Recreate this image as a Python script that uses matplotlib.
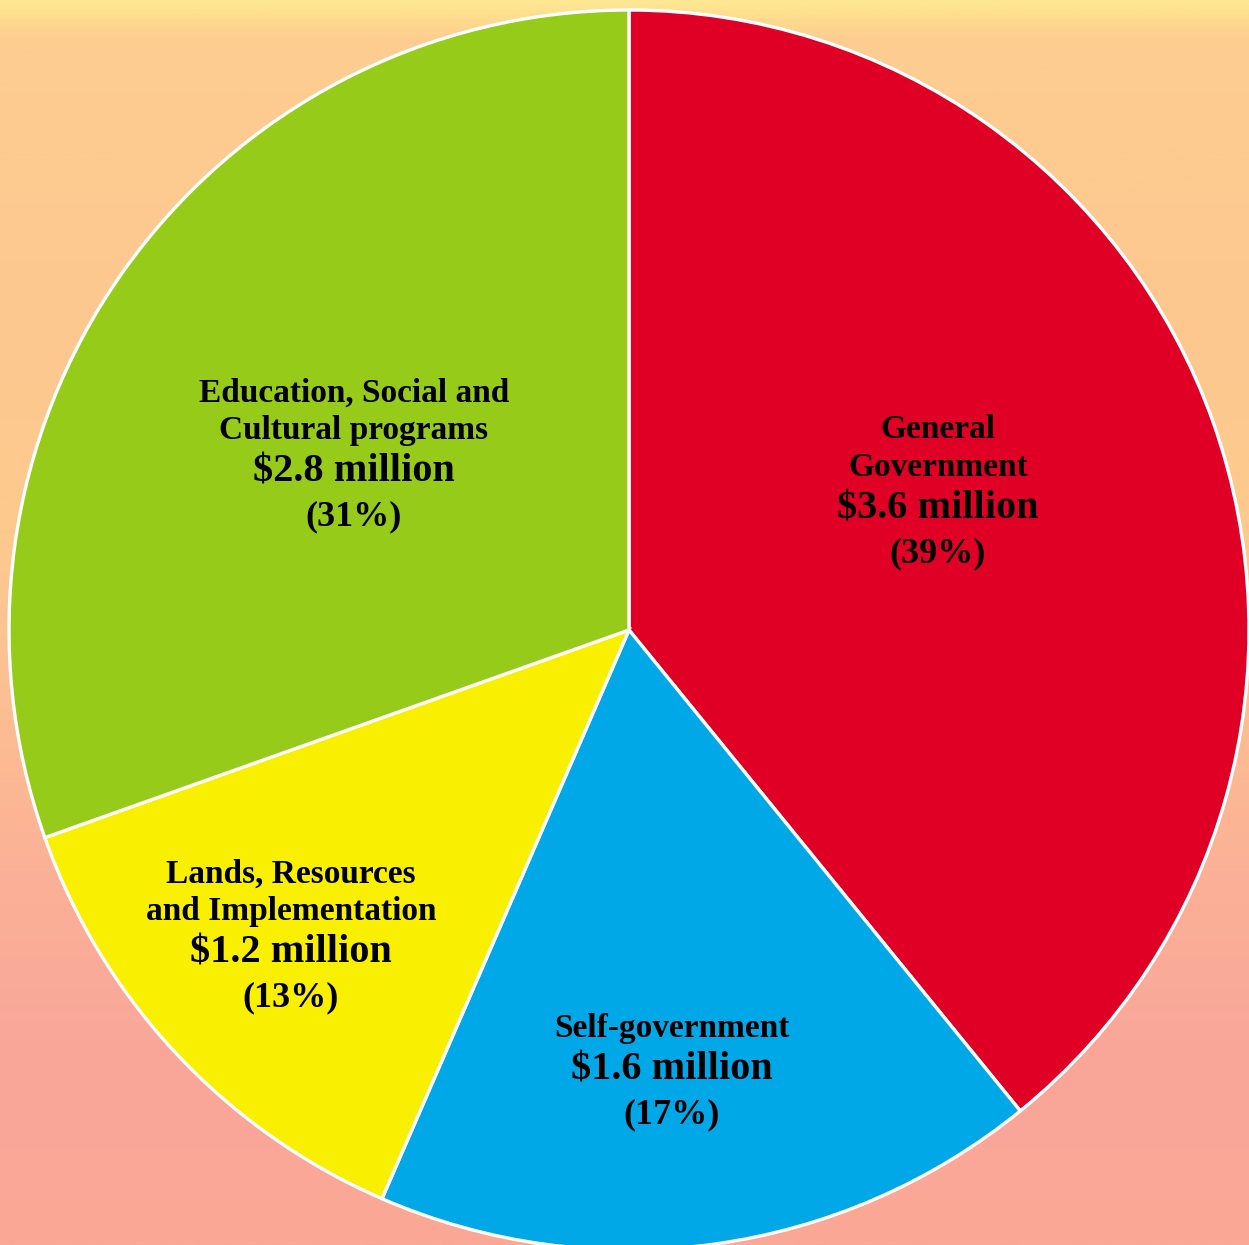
import numpy as np
import matplotlib
matplotlib.use("Agg")
import matplotlib.pyplot as plt
from matplotlib.colors import LinearSegmentedColormap

# Data
categories = ["General Government", "Self-government",
              "Lands, Resources and Implementation",
              "Education, Social and Cultural programs"]
values = [3.6, 1.6, 1.2, 2.8]          # $ million
percents = [39, 17, 13, 31]
colors = ["#E00025", "#00A8E8", "#F8F000", "#96CB1A"]

name_lines = [["General", "Government"],
              ["Self-government"],
              ["Lands, Resources", "and Implementation"],
              ["Education, Social and", "Cultural programs"]]
# label anchor (pixel coords of the first line centre)
label_px = [(938, 430), (672, 1029), (291, 874), (354, 393)]

W, H = 1249, 1245
cx, cy, R = 629, 630, 620

fig = plt.figure(figsize=(W / 100, H / 100), dpi=100)
ax = fig.add_axes([0, 0, 1, 1])

x0, x1 = -cx / R, (W - cx) / R
y0, y1 = (cy - H) / R, cy / R

# background gradient
stops = [(0.0, "#FEE792"), (0.012, "#FEDD8E"), (0.03, "#FDCD90"),
         (0.25, "#FDC890"), (0.42, "#FDCA8D"), (0.55, "#FDC092"),
         (0.7, "#FBB196"), (0.85, "#F9A69A"), (1.0, "#FBA896")]
cmap = LinearSegmentedColormap.from_list("bg", stops)
grad = np.linspace(0, 1, 512).reshape(-1, 1)
ax.imshow(grad, cmap=cmap, extent=[x0, x1, y0, y1], aspect="auto",
          origin="upper", zorder=0)

wedges, _ = ax.pie(values, colors=colors, startangle=90, counterclock=False,
                   radius=1.0, center=(0, 0),
                   wedgeprops=dict(edgecolor="white", linewidth=2.4),
                   normalize=True)
for w in wedges:
    w.set_zorder(2)

ax.set_xlim(x0, x1)
ax.set_ylim(y0, y1)
ax.set_aspect("equal")
ax.axis("off")

font = ["Liberation Serif", "DejaVu Serif"]
for lines, val, pct, (px, py) in zip(name_lines, values, percents, label_px):
    y = py
    for i, ln in enumerate(lines):
        ax.text((px - cx) / R, (cy - y) / R, ln, ha="center", va="center",
                fontsize=24, fontweight="bold", family=font, zorder=3)
        y += 38
    y += 3
    ax.text((px - cx) / R, (cy - y) / R, f"${val} million", ha="center",
            va="center", fontsize=29, fontweight="bold", family=font, zorder=3)
    y += 45
    ax.text((px - cx) / R, (cy - y) / R, f"({pct}%)", ha="center",
            va="center", fontsize=26, fontweight="bold", family=font, zorder=3)

fig.savefig("out.png", dpi=100)
